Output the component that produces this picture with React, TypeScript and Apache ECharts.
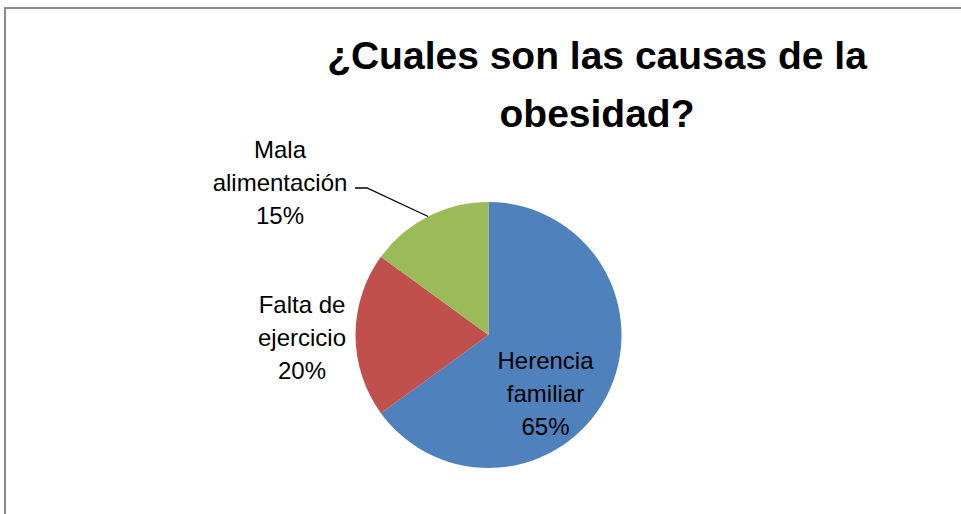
import React, { useEffect, useRef } from "react";
import * as echarts from "echarts";

const categories = ["Herencia familiar", "Falta de ejercicio", "Mala alimentación"];
const values = [65, 20, 15];
const colors = ["#4F81BD", "#C0504D", "#9BBB59"];
const titleLines = ["¿Cuales son las causas de la", "obesidad?"];

export default function App() {
  const ref = useRef<HTMLDivElement>(null);
  useEffect(() => {
    if (!ref.current) return;
    const chart = echarts.init(ref.current, null, { renderer: "svg" });
    const labelPos = [
      { x: 545.5, y: 393 },
      { x: 302, y: 337 },
      { x: 280, y: 182 },
    ];
    chart.setOption({
      animation: false,
      backgroundColor: "#ffffff",
      graphic: [
        { type: "line", shape: { x1: 4, y1: 8, x2: 961, y2: 8 }, style: { stroke: "#8a8a8a", lineWidth: 2 } },
        { type: "line", shape: { x1: 5, y1: 7, x2: 5, y2: 514 }, style: { stroke: "#8a8a8a", lineWidth: 2 } },
        {
          type: "text",
          x: 597,
          y: 55.5,
          style: {
            text: titleLines[0],
            align: "center",
            verticalAlign: "middle",
            font: "bold 39px 'Liberation Sans', Arial, sans-serif",
            fill: "#000000",
          },
        },
        {
          type: "text",
          x: 597,
          y: 113.5,
          style: {
            text: titleLines[1],
            align: "center",
            verticalAlign: "middle",
            font: "bold 39px 'Liberation Sans', Arial, sans-serif",
            fill: "#000000",
          },
        },
      ],
      series: [
        {
          type: "pie",
          center: [488.5, 335],
          radius: 133,
          startAngle: 90,
          clockwise: true,
          avoidLabelOverlap: false,
          silent: true,
          label: {
            show: true,
            color: "#000000",
            fontFamily: "'Liberation Sans', Arial, sans-serif",
            fontSize: 24,
            lineHeight: 33,
            align: "center",
            formatter: (p: any) =>
              String(p.name).replace(/ (\S+)$/, "\n$1") + "\n" + Math.round(p.percent) + "%",
          },
          labelLine: { show: true, lineStyle: { color: "#000000", width: 1.3 } },
          labelLayout: (params: any) => {
            const i = params.dataIndex;
            const pos = labelPos[i];
            const res: any = { x: pos.x, y: pos.y, align: "center", verticalAlign: "middle" };
            if (i === 2) {
              const start = params.labelLinePoints && params.labelLinePoints[0]
                ? params.labelLinePoints[0]
                : [428, 217];
              res.labelLinePoints = [start, [367, 188], [355, 188]];
            }
            return res;
          },
          data: categories.map((name, i) => ({
            name,
            value: values[i],
            itemStyle: { color: colors[i] },
            label: { position: i === 0 ? "inside" : "outside" },
            labelLine: { show: i === 2 },
          })),
        },
      ],
    });
    return () => chart.dispose();
  }, []);
  return (
    <div
      ref={ref}
      style={{ position: "absolute", left: 0, top: 0, width: 961, height: 514 }}
    />
  );
}
